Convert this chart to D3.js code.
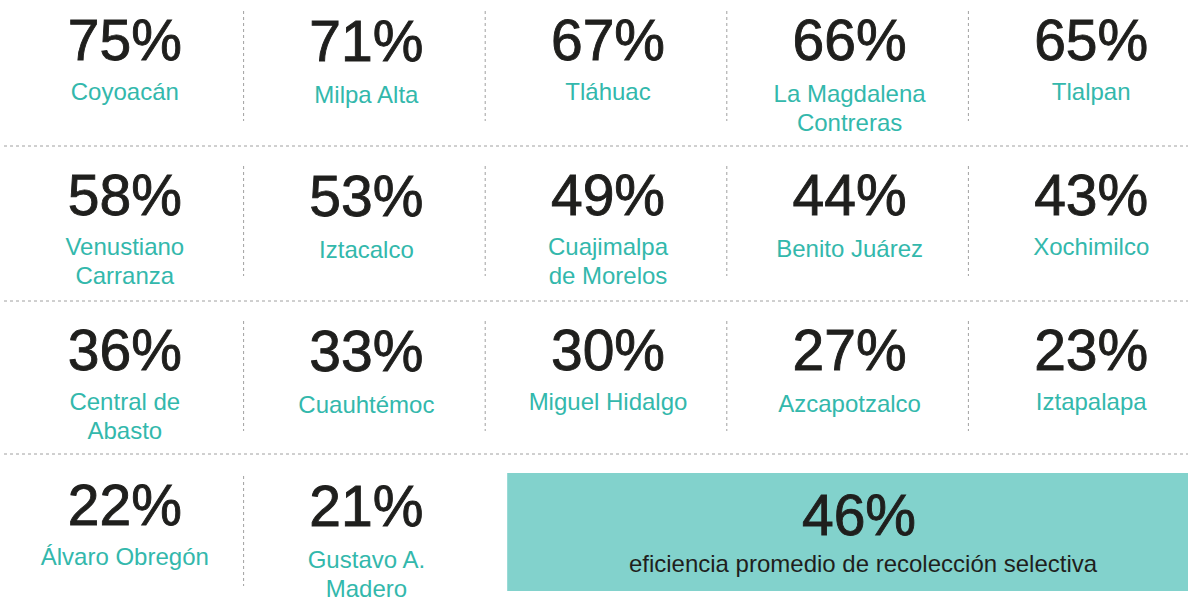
<!DOCTYPE html>
<html>
<head>
<meta charset="utf-8">
<script src="https://cdn.jsdelivr.net/npm/d3@7"></script>
<style>
  html, body { margin: 0; padding: 0; background: #fff; }
  svg { display: block; }
  text { font-family: "Liberation Sans", Arial, Helvetica, sans-serif; }
</style>
</head>
<body>
<svg id="chart"></svg>
<script>
// alcaldías, in the order they appear (5 per row)
const districts = [
    ["Coyoacán"], ["Milpa Alta"], ["Tláhuac"], ["La Magdalena", "Contreras"], ["Tlalpan"],
    ["Venustiano", "Carranza"], ["Iztacalco"], ["Cuajimalpa", "de Morelos"], ["Benito Juárez"], ["Xochimilco"],
    ["Central de", "Abasto"], ["Cuauhtémoc"], ["Miguel Hidalgo"], ["Azcapotzalco"], ["Iztapalapa"],
    ["Álvaro Obregón"], ["Gustavo A.", "Madero"]
];
const efficiency = [75, 71, 67, 66, 65, 58, 53, 49, 44, 43, 36, 33, 30, 27, 23, 22, 21];

const average = 46;
const averageLabel = "eficiencia promedio de recolección selectiva";

var W = 1188, H = 600;
var nCols = 5, nRows = 4;

var svg = d3.select("#chart").attr("width", W).attr("height", H);

var x = d3.scaleBand().domain(d3.range(nCols)).range([4, 1212]);
var y = d3.scaleBand().domain(d3.range(nRows)).range([0, 620]);

var fmt = d => d + "%";
var labelShift = [0, 3, 0, 2, 0]; // small vertical nudge seen in the original

var cells = efficiency.map((v, i) => ({
    value: v,
    lines: districts[i],
    col: i % nCols,
    row: Math.floor(i / nCols)
}));

// horizontal dashed rules between rows
svg.append("g")
    .selectAll("line")
    .data(d3.range(1, nRows))
    .join("line")
    .attr("x1", 4)
    .attr("x2", W)
    .attr("y1", r => y(r) - 9 - (r === 3 ? 2 : 0))
    .attr("y2", r => y(r) - 9 - (r === 3 ? 2 : 0))
    .attr("stroke", "#a0a0a0")
    .attr("stroke-width", 1)
    .attr("stroke-dasharray", "3,3");

// vertical dashed separators (only between neighbouring cells)
var seps = cells.filter(d => d.col > 0);
svg.append("g")
    .selectAll("line")
    .data(seps)
    .join("line")
    .attr("x1", d => x(d.col) - 2)
    .attr("x2", d => x(d.col) - 2)
    .attr("y1", d => y(d.row) + 11)
    .attr("y2", d => y(d.row) + 121)
    .attr("stroke", "#a0a0a0")
    .attr("stroke-width", 1)
    .attr("stroke-dasharray", "3,3");

var cell = svg.append("g")
    .selectAll("g")
    .data(cells)
    .join("g")
    .attr("transform", d => "translate(" + (x(d.col) + x.bandwidth() / 2) + "," + y(d.row) + ")");

cell.append("text")
    .attr("text-anchor", "middle")
    .attr("y", d => 60 + (d.col === 1 ? 1 : 0))
    .attr("fill", "#1f1f1d")
    .attr("stroke", "#1f1f1d")
    .attr("stroke-width", 0.9)
    .style("font-size", "57px")
    .text(d => fmt(d.value));

cell.append("text")
    .attr("text-anchor", "middle")
    .attr("y", d => 100 + labelShift[d.col])
    .attr("fill", "#33b8ac")
    .style("font-size", "24px")
    .selectAll("tspan")
    .data(d => d.lines)
    .join("tspan")
    .attr("x", 0)
    .attr("dy", (d, i) => i === 0 ? 0 : 29)
    .text(d => d);

// average box in the last row
var bx = x(2) + 20, by = y(3) + 8;
var avg = svg.append("g");
avg.append("rect")
    .attr("x", bx)
    .attr("y", by)
    .attr("width", W - bx)
    .attr("height", 118)
    .attr("fill", "#82d2cc");

avg.append("text")
    .attr("x", 859)
    .attr("y", by + 62)
    .attr("text-anchor", "middle")
    .attr("fill", "#1f1f1d")
    .attr("stroke", "#1f1f1d")
    .attr("stroke-width", 0.9)
    .style("font-size", "57px")
    .text(fmt(average));

avg.append("text")
    .attr("x", 863)
    .attr("y", by + 99)
    .attr("text-anchor", "middle")
    .attr("fill", "#1f1f1d")
    .style("font-size", "24px")
    .text(averageLabel);
</script>
</body>
</html>
